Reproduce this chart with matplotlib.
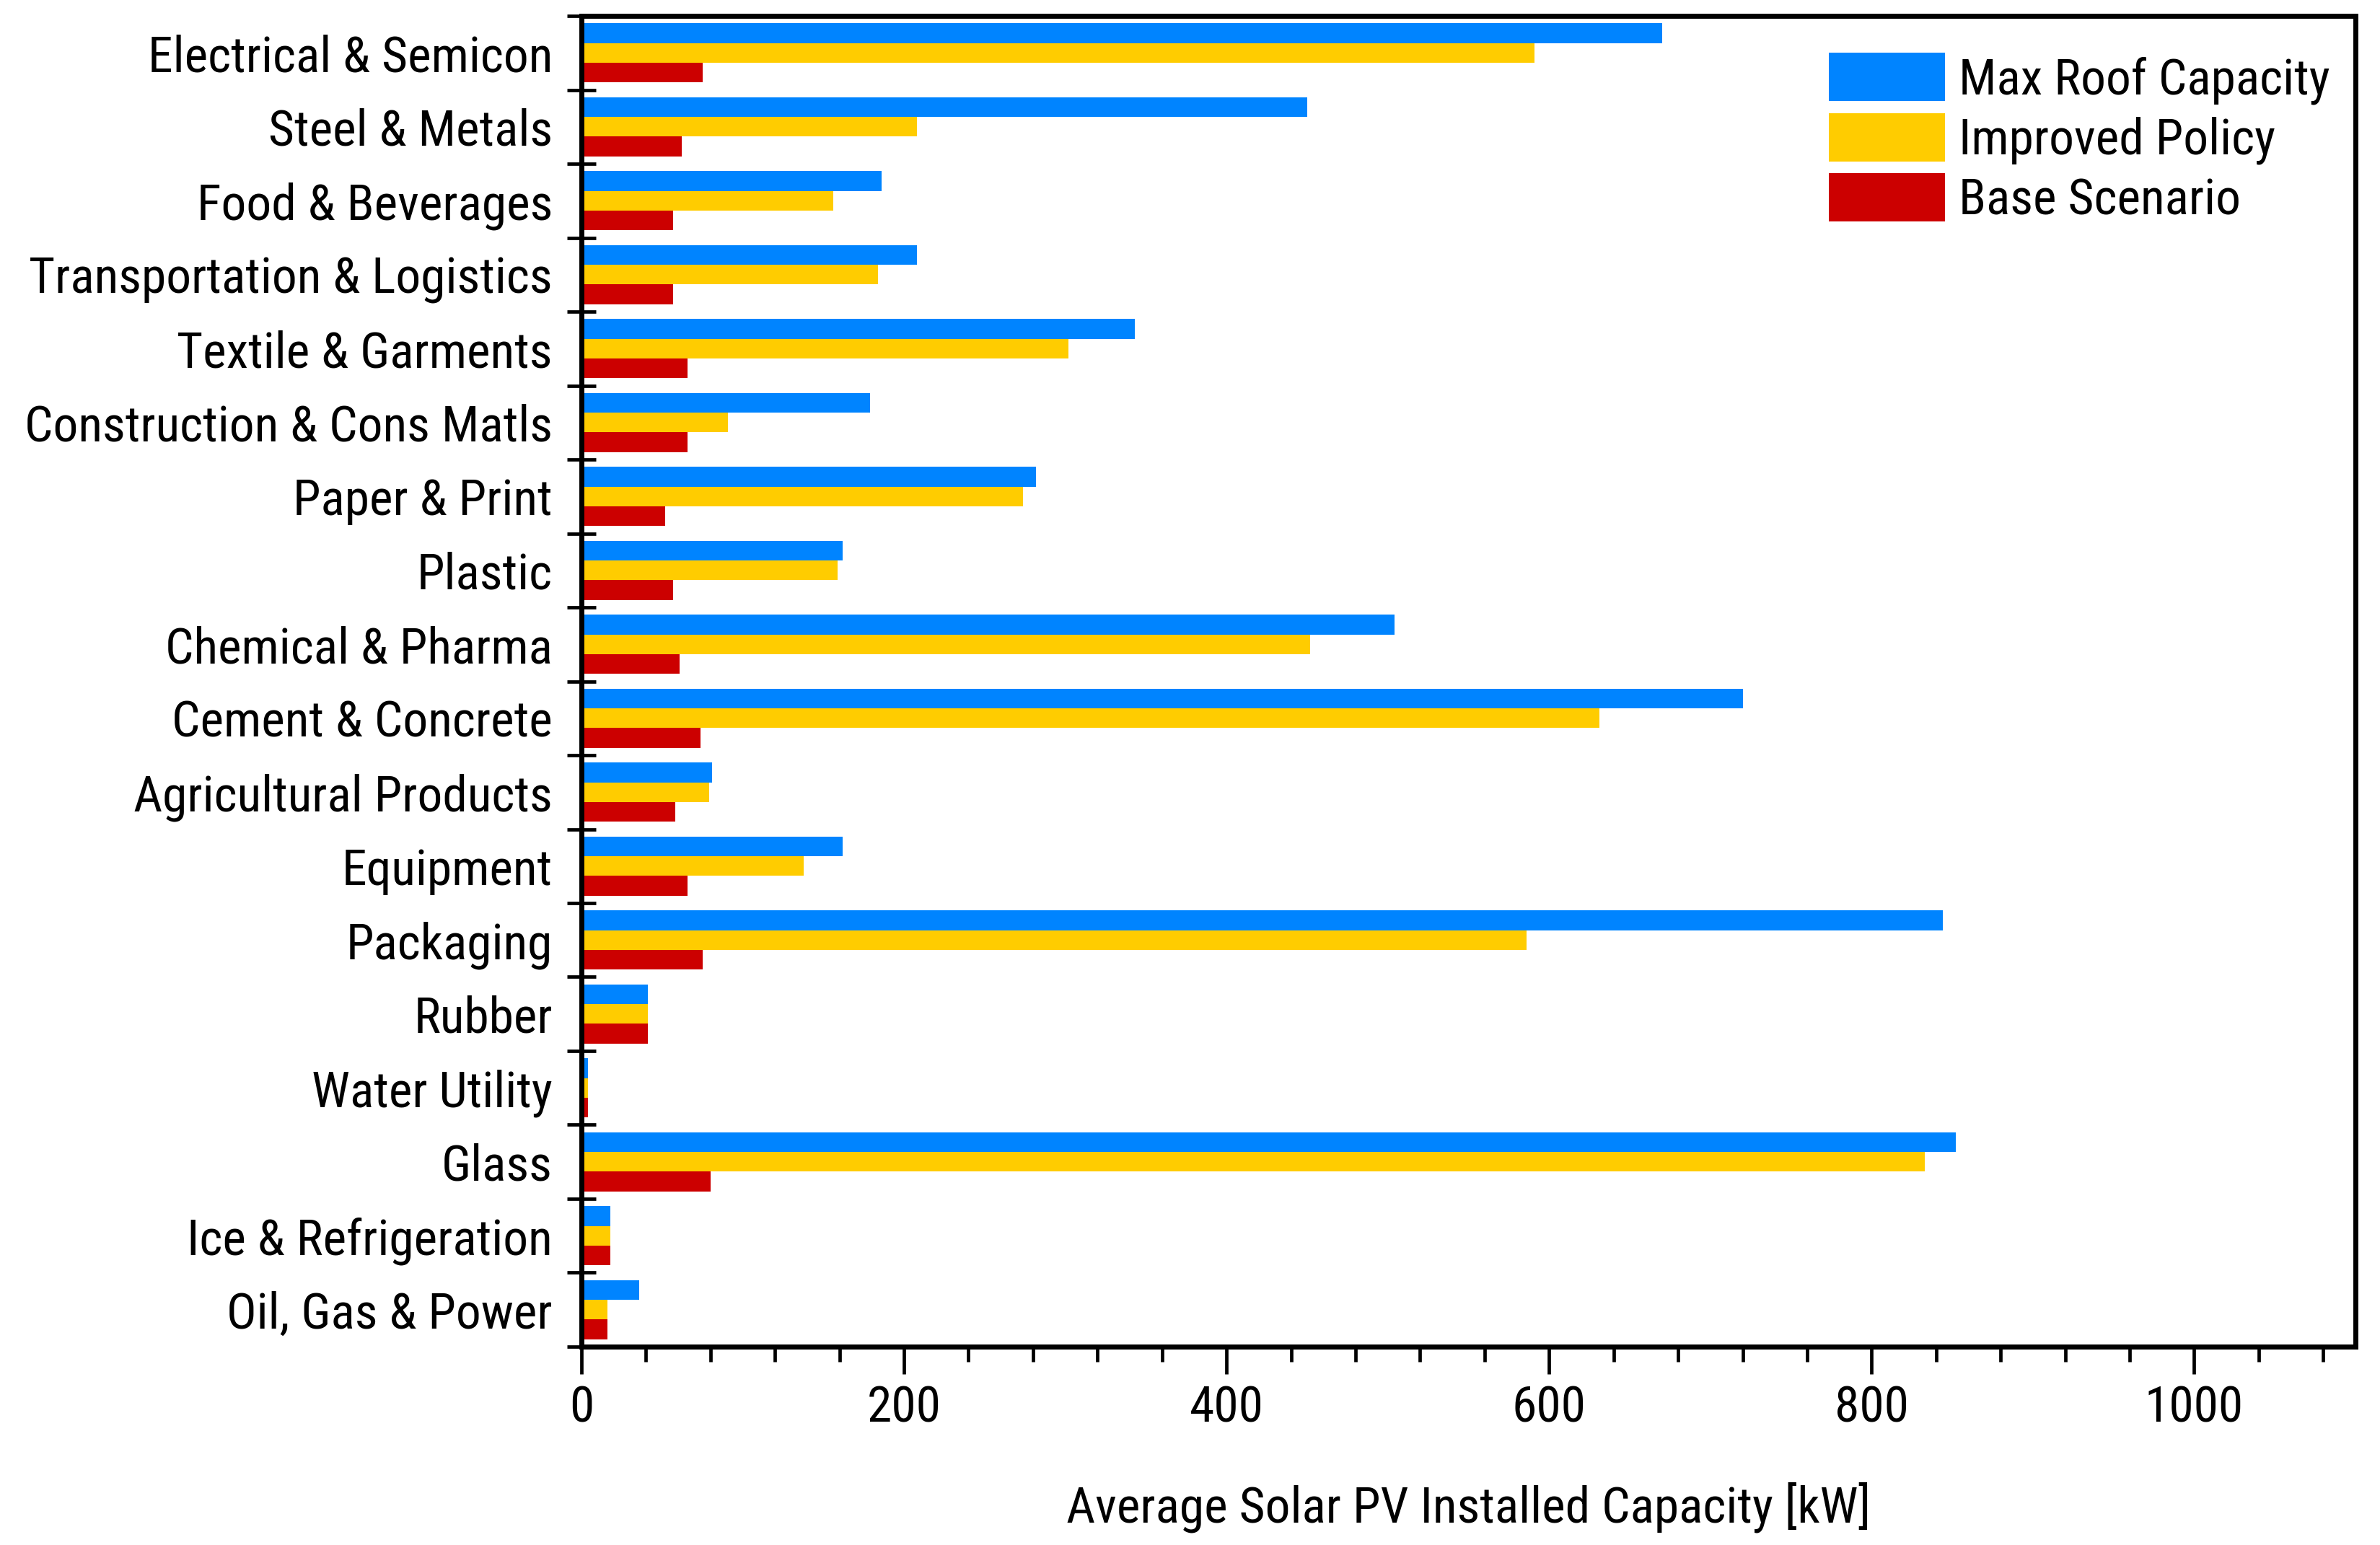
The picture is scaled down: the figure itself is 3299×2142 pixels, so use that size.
import numpy as np
import matplotlib.pyplot as plt
from matplotlib import font_manager as fm
from matplotlib.ticker import MultipleLocator

# ---- Data ----

sectors = [
    "Electrical & Semicon", "Steel & Metals", "Food & Beverages",
    "Transportation & Logistics", "Textile & Garments",
    "Construction & Cons Matls", "Paper & Print", "Plastic",
    "Chemical & Pharma", "Cement & Concrete", "Agricultural Products",
    "Equipment", "Packaging", "Rubber", "Water Utility", "Glass",
    "Ice & Refrigeration", "Oil, Gas & Power",
]
max_roof = [670, 450, 186, 208, 343, 179, 282, 162, 504, 720, 81, 162, 844, 41, 4, 852, 18, 36]
improved = [591, 208, 156, 184, 302, 91, 274, 159, 452, 631, 79, 138, 586, 41, 4, 833, 18, 16]
base = [75, 62, 57, 57, 66, 66, 52, 57, 61, 74, 58, 66, 75, 41, 4, 80, 18, 16]

series = [
    ("Max Roof Capacity", max_roof, "#0084FF"),
    ("Improved Policy", improved, "#FFCC00"),
    ("Base Scenario", base, "#CC0000"),
]

# ---- Font: prefer a condensed face if one is installed ----

names = {f.name for f in fm.fontManager.ttflist}
font = "Roboto"
for cand in ["Roboto Condensed", "Liberation Sans Narrow"]:
    if cand in names:
        font = cand
        break
plt.rcParams["font.family"] = [font, "DejaVu Sans"]
condensed = font != "Roboto"
fs_y = 25 if condensed else 19.5
fs_x = 25 if condensed else 23
fs_lab = 25 if condensed else 19.5
fs_leg = 25 if condensed else 21.5

# ---- Plot ----

fig = plt.figure(figsize=(16.495, 10.71), dpi=200)
ax = fig.add_axes([0.2443, 0.1284, 0.9897 - 0.2443, 0.9897 - 0.1284])

y = np.arange(len(sectors))
h = 0.8 / 3
for i, (label, vals, color) in enumerate(series):
    ax.barh(y - 0.4 + h * (i + 0.5), vals, height=h, color=color, label=label)

ax.set_xlim(0, 1100)
ax.set_ylim(len(sectors) - 0.5, -0.5)

ax.xaxis.set_major_locator(MultipleLocator(200))
ax.xaxis.set_minor_locator(MultipleLocator(40))
ax.tick_params(axis="x", which="major", direction="out", length=13.8, width=1.7,
               labelsize=fs_x, pad=5)
ax.tick_params(axis="x", which="minor", direction="out", length=7.5, width=1.7)

# category labels on the centres, tick marks on the boundaries
ax.set_yticks(y)
ax.set_yticklabels(sectors)
ax.set_yticks(np.arange(len(sectors) + 1) - 0.5, minor=True)
ax.tick_params(axis="y", which="major", length=0, labelsize=fs_y, pad=14.4)
ax.tick_params(axis="y", which="minor", direction="inout", length=14.4, width=1.7)

for s in ax.spines.values():
    s.set_linewidth(2.5)

ax.set_xlabel("Average Solar PV Installed Capacity [kW]", fontsize=fs_lab, labelpad=25)

fsp = fs_leg * 200 / 72  # legend font size in px
ax.legend(loc="upper left", bbox_to_anchor=(0.7684, 0.9659), bbox_transform=fig.transFigure,
          frameon=False, fontsize=fs_leg, handlelength=161 / fsp, handleheight=77 / fsp,
          labelspacing=12 / fsp, handletextpad=19 / fsp, borderpad=0, borderaxespad=0)

fig.savefig("out.png", dpi=200)
